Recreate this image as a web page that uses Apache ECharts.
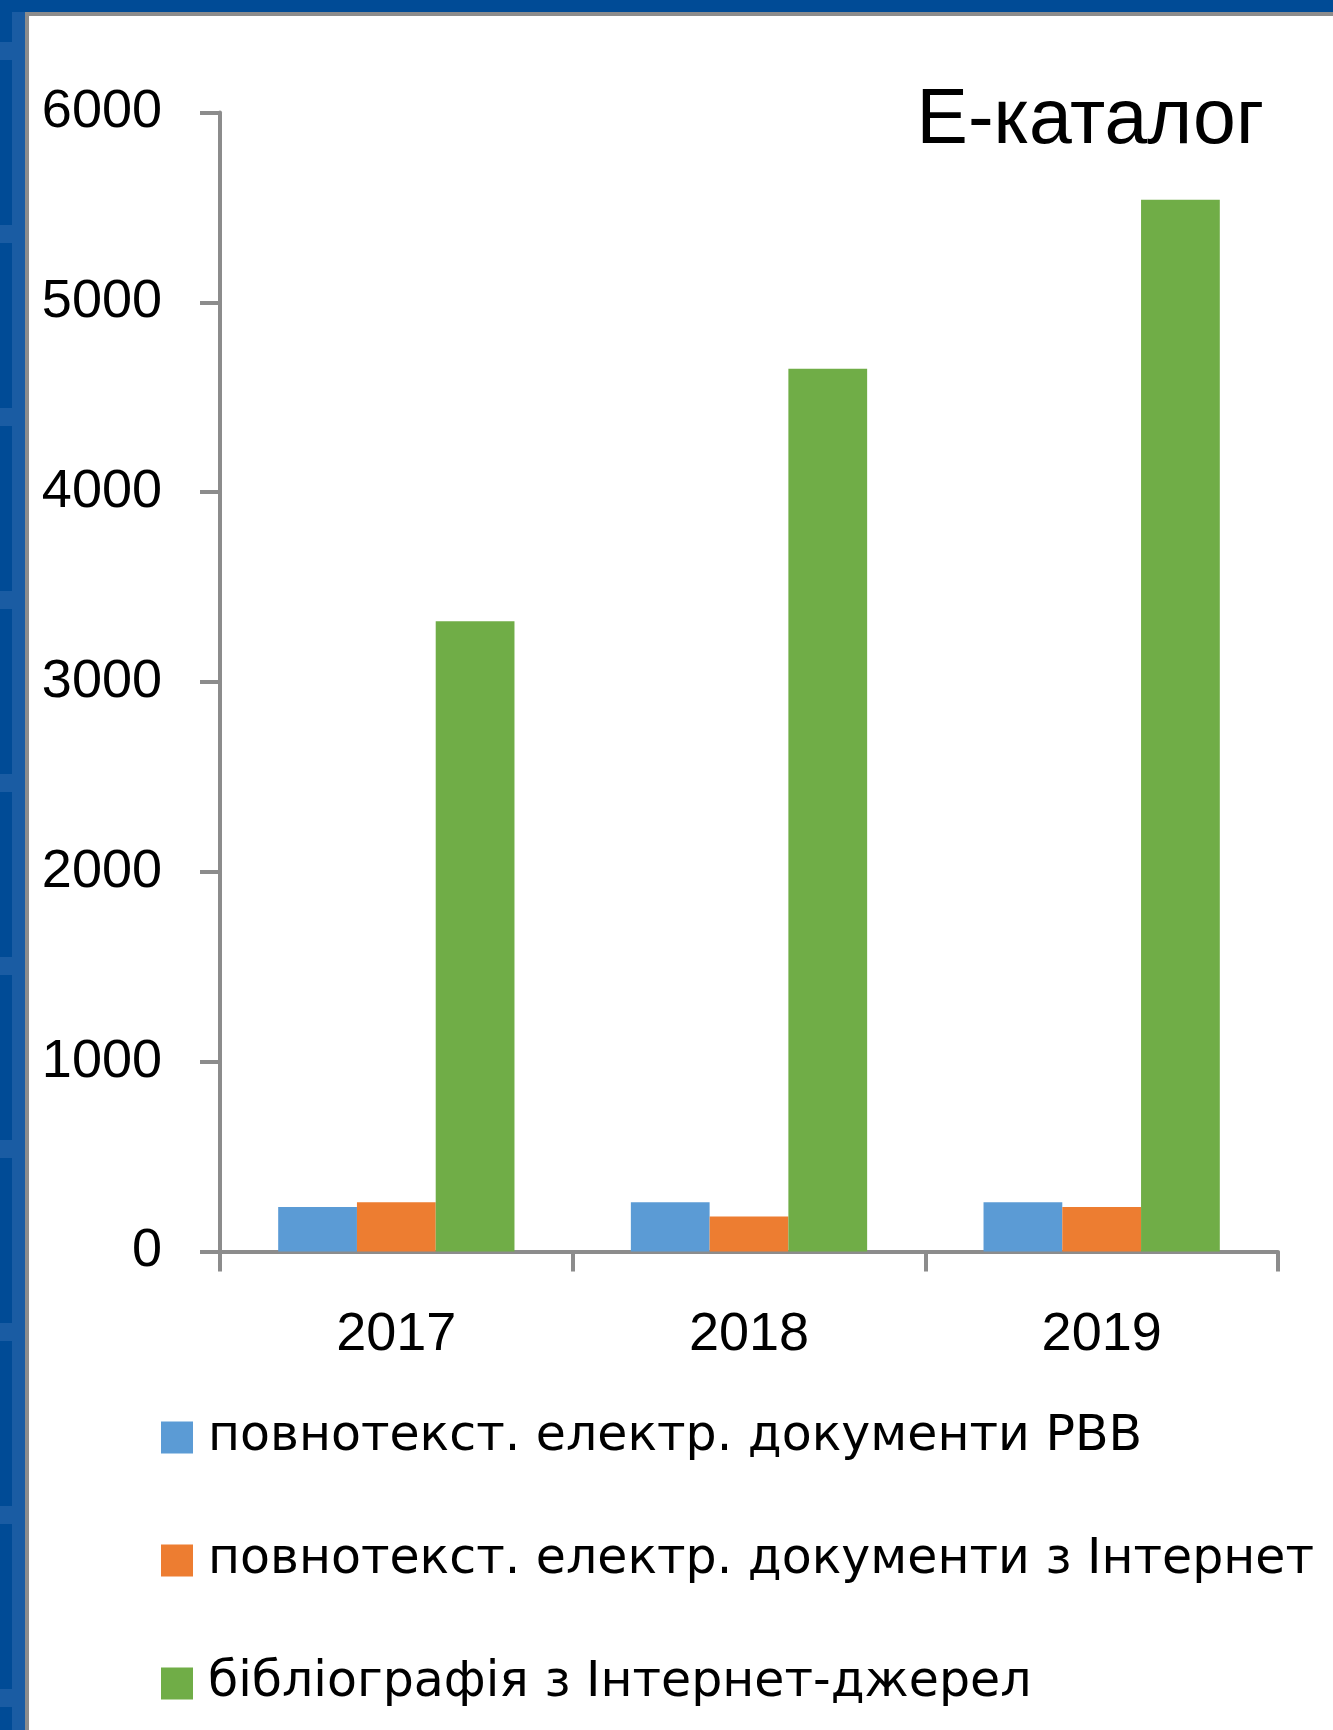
<!DOCTYPE html>
<html>
<head>
<meta charset="utf-8">
<script src="https://cdn.jsdelivr.net/npm/echarts@6/dist/echarts.min.js"></script>
<style>
  html, body { margin: 0; padding: 0; background: #ffffff; }
  #chart { width: 1333px; height: 1730px; }
</style>
</head>
<body>
<div id="chart"></div>
<script>
// ---- data ----
const titleText = 'Е-каталог';
const categories = ['2017', '2018', '2019'];
const seriesNames = [
  'повнотекст. електр. документи РВВ',
  'повнотекст. електр. документи з Інтернет',
  'бібліографія з Інтернет-джерел'
];
const fullTextRVV = [235, 260, 260];
const fullTextInternet = [260, 185, 235];
const bibliography = [3320, 4650, 5540];
const yMin = 0, yMax = 6000, yStep = 1000;
const colors = ['#5b9bd5', '#ed7d31', '#70ad47'];

// ---- decorative frame ----
const frame = [
  { type: 'rect', shape: { x: 0, y: 0, width: 1333, height: 12 }, style: { fill: '#004b96' }, silent: true },
  { type: 'rect', shape: { x: 0, y: 0, width: 12, height: 1730 }, style: { fill: '#004b96' }, silent: true },
  { type: 'rect', shape: { x: 12, y: 12, width: 13, height: 1718 }, style: { fill: '#1a5ca3' }, silent: true },
  { type: 'rect', shape: { x: 25, y: 12, width: 1308, height: 4 }, style: { fill: '#8c8c8c' }, silent: true },
  { type: 'rect', shape: { x: 25, y: 12, width: 4, height: 1718 }, style: { fill: '#8c8c8c' }, silent: true }
];
for (let y = 42; y < 1730; y += 183) {
  frame.push({ type: 'rect', shape: { x: 0, y: y, width: 12, height: 18 }, style: { fill: '#1a5ca3' }, silent: true });
}

const chart = echarts.init(document.getElementById('chart'), null, { renderer: 'canvas' });
const axisGray = '#8c8c8c';

chart.setOption({
  backgroundColor: '#ffffff',
  animation: false,
  color: colors,
  graphic: frame,
  title: {
    text: titleText,
    right: 64,
    top: 78,
    textStyle: { fontFamily: 'Liberation Sans', fontSize: 77, fontWeight: 'normal', color: '#000000' }
  },
  legend: {
    orient: 'vertical',
    left: 156,
    top: 1408,
    itemWidth: 32,
    itemHeight: 32,
    itemGap: 74,
    icon: 'rect',
    data: seriesNames,
    textStyle: {
      fontFamily: 'DejaVu Sans',
      fontSize: 49,
      color: '#000000',
      padding: [0, 0, 0, 10]
    }
  },
  grid: { left: 220, right: 55, top: 112.5, bottom: 478.5, containLabel: false },
  xAxis: {
    type: 'category',
    data: categories,
    boundaryGap: true,
    axisLine: { show: true, lineStyle: { color: axisGray, width: 4 } },
    axisTick: { show: true, length: 20, lineStyle: { color: axisGray, width: 4 } },
    axisLabel: { margin: 57, fontFamily: 'Liberation Sans', fontSize: 54, color: '#000000' },
    splitLine: { show: false }
  },
  yAxis: {
    type: 'value',
    min: yMin,
    max: yMax,
    interval: yStep,
    axisLine: { show: true, lineStyle: { color: axisGray, width: 4 } },
    axisTick: { show: true, length: 20, lineStyle: { color: axisGray, width: 4 } },
    axisLabel: {
      margin: 58, fontFamily: 'Liberation Sans', fontSize: 54, color: '#000000',
      formatter: function (v) { return String(v); }
    },
    splitLine: { show: false }
  },
  series: [
    { name: seriesNames[0], type: 'bar', data: fullTextRVV, barGap: '0%', barCategoryGap: '33%', z: 1 },
    { name: seriesNames[1], type: 'bar', data: fullTextInternet, barGap: '0%', barCategoryGap: '33%', z: 1 },
    { name: seriesNames[2], type: 'bar', data: bibliography, barGap: '0%', barCategoryGap: '33%', z: 1 }
  ]
});
</script>
</body>
</html>
